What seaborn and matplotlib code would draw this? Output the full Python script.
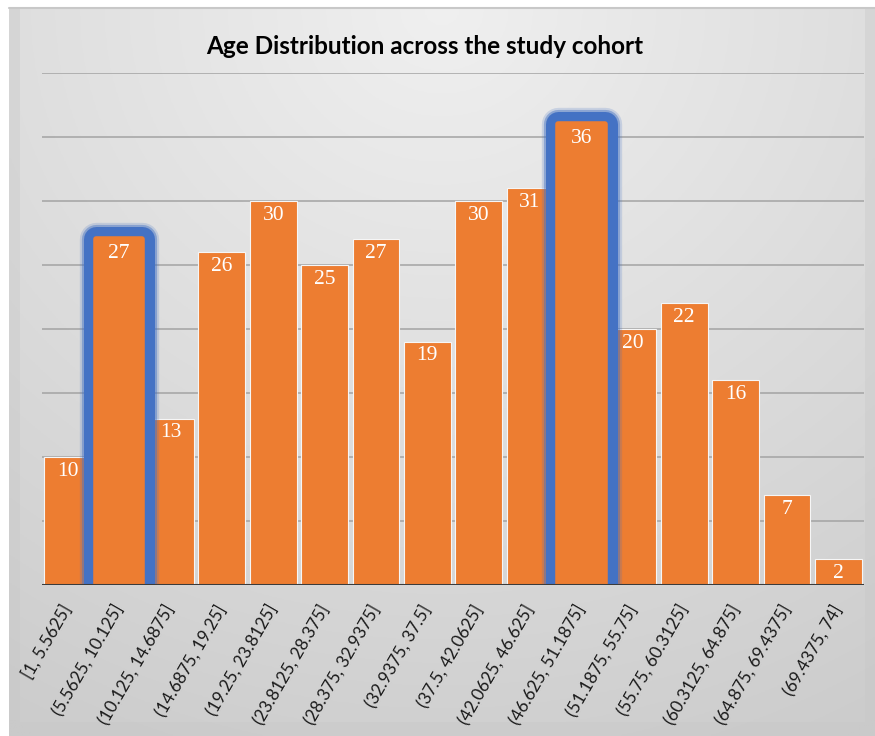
import numpy as np
import matplotlib
matplotlib.use("Agg")
import matplotlib.pyplot as plt
import matplotlib.patheffects as pe
from matplotlib.patches import Rectangle
import seaborn as sns

# Age bins and the number of participants in each
age_bins = ["[1, 5.5625]", "(5.5625, 10.125]", "(10.125, 14.6875]", "(14.6875, 19.25]",
            "(19.25, 23.8125]", "(23.8125, 28.375]", "(28.375, 32.9375]", "(32.9375, 37.5]",
            "(37.5, 42.0625]", "(42.0625, 46.625]", "(46.625, 51.1875]", "(51.1875, 55.75]",
            "(55.75, 60.3125]", "(60.3125, 64.875]", "(64.875, 69.4375]", "(69.4375, 74]"]
counts = [10, 27, 13, 26, 30, 25, 27, 19, 30, 31, 36, 20, 22, 16, 7, 2]
highlighted = ["(5.5625, 10.125]", "(46.625, 51.1875]"]

title = "Age Distribution across the study cohort"

sns.set_theme(style="white")
plt.rcParams["font.family"] = ["Lato", "DejaVu Sans"]

W, H, DPI = 875, 736, 100
fig = plt.figure(figsize=(W / DPI, H / DPI), dpi=DPI)
fig.patch.set_facecolor("white")

# Chart panel background: soft grey gradient, lighter near the top centre
bg = fig.add_axes([9 / W, 0, 1 - 9 / W, 1 - 8 / H])
bg.set_axis_off()
yy, xx = np.mgrid[0:1:300j, 0:1:300j]
r = np.sqrt(((xx - 0.5) * 1.1) ** 2 + (yy * 1.0) ** 2)
shade = np.clip(0.94 - 0.125 * r, 0.80, 0.95)
bg.imshow(np.dstack([shade] * 3), extent=(0, 1, 0, 1), origin="upper", aspect="auto")
bg.set_xlim(0, 1)
bg.set_ylim(0, 1)
# darker outer frame of the panel
frame_col = (0.78, 0.78, 0.78, 0.35)
bg.add_patch(Rectangle((0, 0), 1, 14 / (H - 8), color=frame_col, lw=0))
bg.add_patch(Rectangle((0, 14 / (H - 8)), 11 / (W - 9), 1, color=frame_col, lw=0))
bg.add_patch(Rectangle((1 - 10 / (W - 9), 14 / (H - 8)), 10 / (W - 9), 1, color=frame_col, lw=0))
bg.plot([0, 1], [1, 1], color="#c8c8c8", lw=1.5, transform=bg.transAxes, clip_on=False)

ax = fig.add_axes([42 / W, (H - 585) / H, 822 / W, 512 / H])
ax.patch.set_alpha(0)

bar_col = "#ED7D31"
sns.barplot(x=age_bins, y=counts, color=bar_col, saturation=1, width=0.91,
            edgecolor="#f6f6f6", linewidth=0.8, ax=ax, zorder=3)

ax.set_ylim(0, 40)
ax.set_xlim(-0.5, len(age_bins) - 0.5)
ax.set_yticks(np.arange(0, 41, 5))
ax.yaxis.grid(True, color="#a3a3a3", lw=1.1, zorder=0)
ax.set_axisbelow(True)
ax.tick_params(axis="y", left=False, labelleft=False)
ax.tick_params(axis="x", bottom=False, pad=9)
for s in ax.spines.values():
    s.set_visible(False)
ax.set_xlabel("")
ax.set_ylabel("")
ax.axhline(0, color="#3b3b3b", lw=2.2, zorder=6)

for lab in ax.get_xticklabels():
    lab.set_rotation(60)
    lab.set_ha("right")
    lab.set_va("center")
    lab.set_rotation_mode("anchor")
    lab.set_fontsize(12.3)
    lab.set_color("#1a1a1a")

# Blue glow round the highlighted bars
glow = "#4472C4"
for bar, name in zip(ax.patches, age_bins):
    if name in highlighted:
        bar.set_zorder(5)
        bar.set_edgecolor(bar_col)
        bar.set_joinstyle("round")
        bar.set_path_effects([
            pe.Stroke(linewidth=24, foreground=glow, alpha=0.2, joinstyle="round"),
            pe.Stroke(linewidth=21, foreground=glow, alpha=0.45, joinstyle="round"),
            pe.Stroke(linewidth=18, foreground=glow, joinstyle="round"),
            pe.Stroke(linewidth=4, foreground=bar_col, joinstyle="round"),
            pe.Normal(),
        ])

# Value labels inside the top of each bar
for i, (name, v) in enumerate(zip(age_bins, counts)):
    ax.annotate(f"{v}", xy=(i, v), xytext=(0, -14), textcoords="offset pixels",
                ha="center", va="center", color="white", fontsize=15.5,
                family="Liberation Serif", zorder=8)

fig.text(425 / W, 1 - 46 / H, title, ha="center", va="center",
         fontsize=17.5, fontweight="bold", color="black")

fig.savefig("out.png", dpi=DPI, facecolor=fig.get_facecolor())
